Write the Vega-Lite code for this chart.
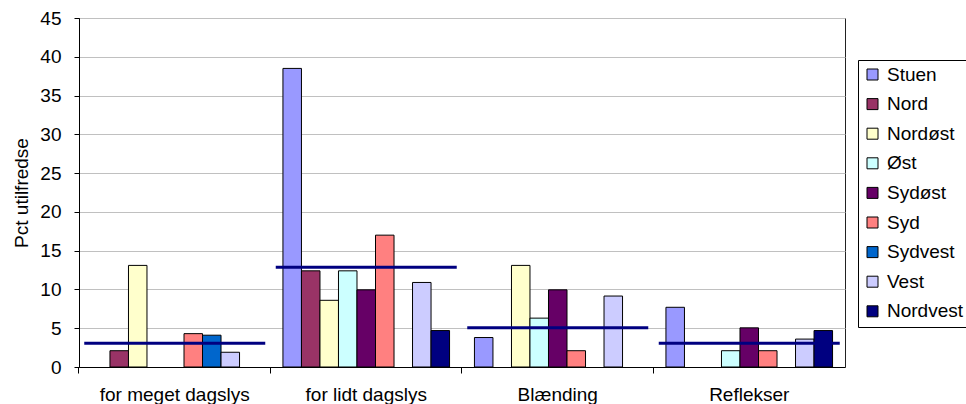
{
  "$schema": "https://vega.github.io/schema/vega-lite/v6.json",
  "width": 766,
  "height": 349,
  "autosize": {"type": "none"},
  "padding": {"left": 79, "top": 18, "right": 121, "bottom": 37},
  "background": "white",
  "config": {
    "font": "Liberation Sans",
    "view": {"stroke": "#222222", "strokeWidth": 1},
    "axis": {"labelFont": "Liberation Sans", "titleFont": "Liberation Sans", "labelColor": "black", "titleColor": "black", "domainColor": "black", "tickColor": "black"}
  },
  "datasets": {
    "bars": [
      {"kategori": "for meget dagslys", "serie": "Nord", "pct": 2.1},
      {"kategori": "for meget dagslys", "serie": "Nordøst", "pct": 13.1},
      {"kategori": "for meget dagslys", "serie": "Syd", "pct": 4.3},
      {"kategori": "for meget dagslys", "serie": "Sydvest", "pct": 4.1},
      {"kategori": "for meget dagslys", "serie": "Vest", "pct": 1.9},
      {"kategori": "for lidt dagslys", "serie": "Stuen", "pct": 38.5},
      {"kategori": "for lidt dagslys", "serie": "Nord", "pct": 12.4},
      {"kategori": "for lidt dagslys", "serie": "Nordøst", "pct": 8.6},
      {"kategori": "for lidt dagslys", "serie": "Øst", "pct": 12.4},
      {"kategori": "for lidt dagslys", "serie": "Sydøst", "pct": 9.95},
      {"kategori": "for lidt dagslys", "serie": "Syd", "pct": 17.0},
      {"kategori": "for lidt dagslys", "serie": "Vest", "pct": 10.9},
      {"kategori": "for lidt dagslys", "serie": "Nordvest", "pct": 4.7},
      {"kategori": "Blænding", "serie": "Stuen", "pct": 3.8},
      {"kategori": "Blænding", "serie": "Nordøst", "pct": 13.1},
      {"kategori": "Blænding", "serie": "Øst", "pct": 6.3},
      {"kategori": "Blænding", "serie": "Sydøst", "pct": 9.95},
      {"kategori": "Blænding", "serie": "Syd", "pct": 2.1},
      {"kategori": "Blænding", "serie": "Vest", "pct": 9.15},
      {"kategori": "Reflekser", "serie": "Stuen", "pct": 7.7},
      {"kategori": "Reflekser", "serie": "Øst", "pct": 2.1},
      {"kategori": "Reflekser", "serie": "Sydøst", "pct": 5.05},
      {"kategori": "Reflekser", "serie": "Syd", "pct": 2.1},
      {"kategori": "Reflekser", "serie": "Vest", "pct": 3.6},
      {"kategori": "Reflekser", "serie": "Nordvest", "pct": 4.7}
    ],
    "gennemsnit": [
      {"kategori": "for meget dagslys", "pct": 3.05},
      {"kategori": "for lidt dagslys", "pct": 12.85},
      {"kategori": "Blænding", "pct": 5.07},
      {"kategori": "Reflekser", "pct": 3.05}
    ]
  },
  "layer": [
    {
      "data": {"name": "bars"},
      "mark": {"type": "bar", "stroke": "black", "strokeWidth": 1},
      "encoding": {
        "x": {
          "field": "kategori", "type": "nominal",
          "sort": ["for meget dagslys", "for lidt dagslys", "Blænding", "Reflekser"],
          "scale": {"paddingInner": 0.13, "paddingOuter": 0.065},
          "axis": {"title": null, "ticks": false, "labelAngle": 0, "labelFontSize": 19, "labelPadding": 18, "domainColor": "black", "grid": false}
        },
        "xOffset": {
          "field": "serie", "type": "nominal",
          "scale": {"domain": ["Stuen", "Nord", "Nordøst", "Øst", "Sydøst", "Syd", "Sydvest", "Vest", "Nordvest"], "paddingInner": 0, "paddingOuter": 0}
        },
        "y": {
          "field": "pct", "type": "quantitative",
          "scale": {"domain": [0, 45], "nice": false},
          "axis": {"title": "Pct utilfredse", "titleFontSize": 19, "titleFontWeight": "normal", "titlePadding": 8, "values": [0, 5, 10, 15, 20, 25, 30, 35, 40, 45], "labelOverlap": false, "labelFontSize": 19, "tickSize": 5, "labelPadding": 13, "gridColor": "#c0c0c0", "domainColor": "black"}
        },
        "color": {
          "field": "serie", "type": "nominal",
          "scale": {
            "domain": ["Stuen", "Nord", "Nordøst", "Øst", "Sydøst", "Syd", "Sydvest", "Vest", "Nordvest"],
            "range": ["#9999FF", "#993366", "#FFFFCC", "#CCFFFF", "#660066", "#FF8080", "#0066CC", "#CCCCFF", "#000080"]
          },
          "legend": {
            "title": null, "orient": "none", "legendX": 779, "legendY": 42,
            "strokeColor": "black", "padding": 5, "symbolType": "square", "symbolSize": 121,
            "symbolStrokeColor": "black", "symbolStrokeWidth": 1, "labelFontSize": 19,
            "labelFont": "Liberation Sans", "labelColor": "black", "rowPadding": 9.6, "labelOffset": 5
          }
        }
      }
    },
    {
      "data": {"name": "gennemsnit"},
      "mark": {"type": "tick", "color": "#000080", "thickness": 3, "size": 181, "opacity": 1},
      "encoding": {
        "x": {
          "field": "kategori", "type": "nominal",
          "sort": ["for meget dagslys", "for lidt dagslys", "Blænding", "Reflekser"],
          "axis": {"orient": "bottom", "title": null, "labels": false, "ticks": true, "tickSize": 6, "bandPosition": -0.075, "domain": false, "grid": false}
        },
        "y": {
          "field": "pct", "type": "quantitative",
          "axis": {"title": "Pct utilfredse", "titleFontSize": 19, "titleFontWeight": "normal", "titlePadding": 8, "values": [0, 5, 10, 15, 20, 25, 30, 35, 40, 45], "labelOverlap": false, "labelFontSize": 19, "tickSize": 5, "labelPadding": 13, "gridColor": "#c0c0c0", "domainColor": "black"}
        }
      }
    }
  ],
  "resolve": {"axis": {"x": "independent"}}
}
